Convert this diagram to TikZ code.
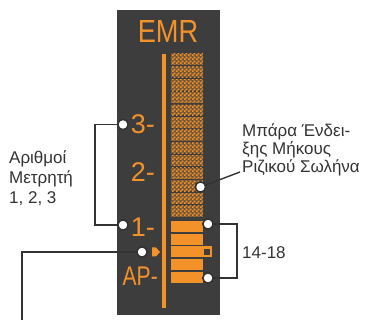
\documentclass[tikz,border=0pt]{standalone}
\usepackage{fontspec}
\setmainfont{Liberation Sans}
\usetikzlibrary{patterns.meta, positioning}

\definecolor{panelgray}{HTML}{3D3D3D}
\definecolor{emrorange}{HTML}{F4922A}
\definecolor{leadgray}{HTML}{333333}

\pgfdeclarepattern{
  name=emrgrid,
  type=uncolored,
  bottom left={\pgfpoint{0pt}{0pt}},
  top right={\pgfpoint{4pt}{4pt}},
  tile size={\pgfpoint{4pt}{4pt}},
  code={
    \pgfpathrectangle{\pgfpoint{0pt}{0pt}}{\pgfpoint{2pt}{2pt}}
    \pgfpathrectangle{\pgfpoint{2pt}{2pt}}{\pgfpoint{2pt}{2pt}}
    \pgfusepath{fill}
  }
}

\begin{document}
\begin{tikzpicture}[
    x=1pt, y=-1pt,
    lcd/.style={text=emrorange, inner sep=0pt, font=\fontsize{27}{27}\selectfont},
    lbl/.style={text=leadgray, align=left, inner sep=0pt, font=\fontsize{17}{20}\selectfont},
    lead/.style={draw=leadgray, line width=1.4pt},
    hole/.style={draw=leadgray, fill=white, circle, line width=1.6pt, minimum size=10.4pt, inner sep=0pt},
    cell/.style={fill=emrorange!30!panelgray, postaction={pattern=emrgrid, pattern color=emrorange}}
]
    \useasboundingbox (0,0) rectangle (373,320);

    % display panel
    \fill[panelgray] (117,10) rectangle (220,315);
    \node[lcd, font=\fontsize{32}{32}\selectfont] (emr) at (168,31.5) {\scalebox{0.85}[1]{EMR}};
    \fill[emrorange] (162,54) rectangle (166,308);

    % length bar
    \foreach \i in {0,...,12}
        \path[cell] (171,{54+12.65*\i}) rectangle (203,{54+12.65*\i+10.8});
    \foreach \i in {0,1,3,4}
        \fill[emrorange] (171,{221+12.7*\i}) rectangle (203,{221+12.7*\i+11});
    \fill[emrorange] (171,246.4) rectangle (212,257.4);
    \fill[panelgray] (203.5,248.9) rectangle (209.5,254.9);
    \fill[emrorange] (152,247.5) -- (156,247.5) -- (160,252) -- (156,256.5) -- (152,256.5) -- cycle;

    % scale
    \node[lcd, anchor=east] (n3) at (155,124.5) {3-};
    \node[lcd, anchor=east] (n2) at (155,172.5) {2-};
    \node[lcd, anchor=east] (n1) at (155,227) {1-};
    \node[lcd, anchor=east] (nap) at (158,276.5) {\scalebox{0.78}[1]{AP-}};

    % labels
    \node[lbl, anchor=west] (counter) at (9,178) {Αριθμοί\\Μετρητή\\1, 2, 3};
    \node[lbl, anchor=west, font=\fontsize{17}{18.3}\selectfont] (barlbl) at (242,150) {Μπάρα Ένδει-\\ξης Μήκους\\Ριζικού Σωλήνα};
    \node[lbl, anchor=west] (range) at (242,253) {14-18};

    % callouts
    \node[hole] (c3) at (123,124.5) {};
    \node[hole] (c1) at (123,225) {};
    \node[hole] (cm) at (142,252) {};
    \node[hole] (cbar) at (200.5,187) {};
    \node[hole] (ctop) at (208,224) {};
    \node[hole] (cbot) at (208,278) {};

    \coordinate (b3) at (95,124.5);
    \coordinate (b1) at (95,225);
    \coordinate (mk) at (22,252);
    \coordinate (mkend) at (22,320);
    \coordinate (bend) at (240,172);
    \coordinate (rtop) at (237,224);
    \coordinate (rbot) at (237,278);

    \draw[lead] (c3) -- (b3) -- (b1) -- (c1);
    \draw[lead] (cm) -- (mk) -- (mkend);
    \draw[lead] (cbar) -- (bend);
    \draw[lead] (ctop) -- (rtop) -- (rbot) -- (cbot);
\end{tikzpicture}
\end{document}
